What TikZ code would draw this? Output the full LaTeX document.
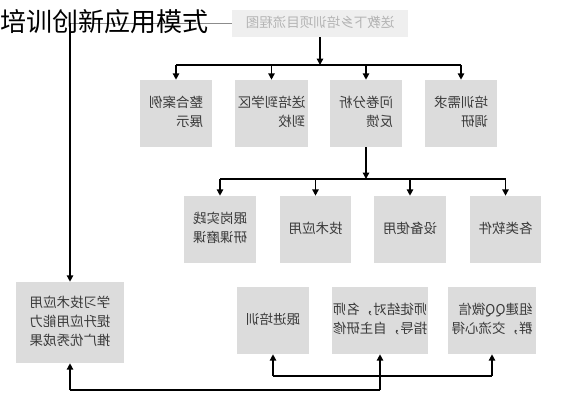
\documentclass[tikz,border=0pt]{standalone}
\usepackage{fontspec}
\setmainfont{Noto Sans CJK SC}
\usetikzlibrary{arrows.meta,positioning}
\definecolor{boxgray}{HTML}{DCDCDC}
\definecolor{txtgray}{HTML}{3A3A3A}
\definecolor{pale}{HTML}{EFEFEF}
\definecolor{paletxt}{HTML}{B4B4B4}
\definecolor{linegray}{HTML}{8C8C8C}
\newcommand{\mirr}[1]{\reflectbox{\begin{tabular}{@{}l@{}}#1\end{tabular}}}

\begin{document}
\begin{tikzpicture}[x=0.025cm,y=-0.025cm,
  box/.style={fill=boxgray,text=txtgray,inner sep=0pt,minimum height=1.675cm,
    font=\fontsize{9.6}{13.5}\selectfont},
  arr/.style={line width=1pt,-{Triangle[length=4.5pt,width=4.5pt]}},
  ln/.style={line width=1pt}]
  \useasboundingbox (0,0) rectangle (563,400);

  \node[box,fill=pale,text=paletxt,minimum width=4.4cm,minimum height=0.675cm] (flow) at (320,23.5) {\mirr{送教下乡培训项目流程图}};

  \node[box,minimum width=1.8cm] (case) at (176,113.5) {\mirr{整合案例\\展示}};
  \node[box,minimum width=1.8cm] (send) at (271.5,113.5) {\mirr{送培到学区\\到校}};
  \node[box,minimum width=1.8cm] (quest) at (366,113.5) {\mirr{问卷分析\\反馈}};
  \node[box,minimum width=1.8cm] (need) at (461,113.5) {\mirr{培训需求\\调研}};

  \node[box,minimum width=1.775cm] (post) at (220,229.5) {\mirr{跟岗实践\\研课磨课}};
  \node[box,minimum width=1.775cm] (tech) at (315.5,229.5) {\mirr{技术应用}};
  \node[box,minimum width=1.775cm] (equip) at (410,229.5) {\mirr{设备使用}};
  \node[box,minimum width=1.775cm] (soft) at (505.5,229.5) {\mirr{各类软件}};

  \node[box,minimum width=1.8cm] (follow) at (273,320.5) {\mirr{跟进培训}};
  \node[box,minimum width=2.4cm] (mentor) at (380,320.5) {\mirr{师徒结对，名师\\指导，自主研修}};
  \node[box,minimum width=2.2cm] (group) at (492,320.5) {\mirr{组建QQ微信\\群，交流心得}};

  \node[box,minimum width=2.7cm,minimum height=2.025cm] (spread) at (70,322.5) {\mirr{学习技术应用\\提升应用能力\\推广优秀成果}};

  \coordinate (b1) at (320,65);
  \draw[arr] (flow.south) -- (flow.south |- b1);
  \draw[ln] (case.north |- b1) -- (need.north |- b1);
  \foreach \n in {case,send,quest,need}
    \draw[arr] (\n.north |- b1) -- (\n.north);

  \coordinate (b2) at (363,179);
  \draw[arr] (quest.south) -- (quest.south |- b2);
  \draw[ln] (post.north |- b2) -- (soft.north |- b2);
  \foreach \n in {post,tech,equip,soft}
    \draw[arr] (\n.north |- b2) -- (\n.north);

  \coordinate (corner) at (spread.north |- flow.west);
  \draw[linegray,line width=0.8pt] (flow.west) -- (corner);
  \draw[arr] (corner) -- (spread.north);

  \coordinate (b3) at (0,376);
  \coordinate (b4) at (0,390);
  \draw[ln] (follow.south |- b3) -- (group.south |- b3);
  \draw[arr] (follow.south |- b3) -- (follow.south);
  \draw[arr] (group.south |- b3) -- (group.south);
  \draw[ln] (mentor.south |- b4) -- (spread.south |- b4);
  \draw[arr] (mentor.south |- b4) -- (mentor.south);
  \draw[arr] (spread.south |- b4) -- (spread.south);

  \node[anchor=west,inner sep=0pt,font=\fontsize{18.5}{20}\selectfont] (title) at (0,22) {培训创新应用模式};
\end{tikzpicture}
\end{document}
